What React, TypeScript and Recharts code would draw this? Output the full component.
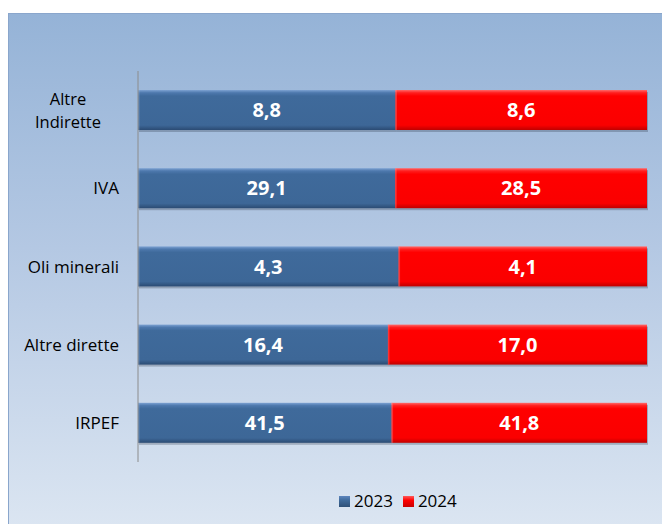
import React from 'react';
import { BarChart, Bar, XAxis, YAxis, Legend, LabelList } from 'recharts';

const categories = ['Altre Indirette', 'IVA', 'Oli minerali', 'Altre dirette', 'IRPEF'];
const values2023 = [8.8, 29.1, 4.3, 16.4, 41.5];
const values2024 = [8.6, 28.5, 4.1, 17.0, 41.8];
const seriesNames = ['2023', '2024'];

const data = categories.map((name, i) => ({
  name,
  y2023: values2023[i],
  y2024: values2024[i],
}));

const FONT = '"Open Sans", "Segoe UI", sans-serif';

const fmt = (v: number) => v.toFixed(1).replace('.', ',');

// bar with a slight bevel and drop shadow, like the office 3D style
const BevelBar = (gradId: string, edge: string) => (props: any) => {
  const { x, y, width, height } = props;
  if (!width || !height) return null;
  return (
    <g>
      <rect x={x + 1} y={y + 2} width={width} height={height} fill="rgba(40,50,70,0.28)" />
      <rect x={x} y={y} width={width} height={height} fill={`url(#${gradId})`} />
      <rect x={x} y={y} width={1.5} height={height} fill={edge} opacity={0.35} />
    </g>
  );
};

const CategoryTick = (props: any) => {
  const { x, y, payload } = props;
  const label: string = payload.value;
  if (label.length > 14) {
    const lines = label.split(' ');
    return (
      <text x={x - 51} y={y} textAnchor="middle" fontFamily={FONT} fontSize={16.5} fill="#000">
        {lines.map((ln, i) => (
          <tspan key={i} x={x - 51} dy={i === 0 ? -5 : 23}>
            {ln}
          </tspan>
        ))}
      </text>
    );
  }
  return (
    <text x={x} y={y} dy={6} textAnchor="end" fontFamily={FONT} fontSize={17} fill="#000">
      {label}
    </text>
  );
};

const LegendContent = (props: any) => {
  const { payload } = props;
  return (
    <div style={{ display: 'flex', alignItems: 'center', fontFamily: FONT, fontSize: 17, color: '#000', lineHeight: '22px' }}>
      {payload.map((p: any, i: number) => (
        <div key={i} style={{ display: 'flex', alignItems: 'center', marginRight: 10 }}>
          <span
            style={{
              display: 'inline-block',
              width: 11,
              height: 11,
              marginRight: 4,
              background: i === 0 ? 'linear-gradient(#5d86bd, #3f6a9b 40%, #2e5078)' : 'linear-gradient(#ff5a5a, #ff0000 40%, #c80000)',
            }}
          />
          <span>{p.value}</span>
        </div>
      ))}
    </div>
  );
};

export default function App() {
  return (
    <div style={{ position: 'fixed', left: 0, top: 0, width: 662, height: 524, overflow: 'hidden', background: '#fff' }}>
      <div
        style={{
          position: 'absolute',
          left: 8,
          top: 13,
          width: 660,
          height: 520,
          borderTop: '1px solid #8aa6cc',
          borderLeft: '1px solid #8aa6cc',
          background: 'linear-gradient(180deg, #95b3d7 0%, #b4c8e3 45%, #dce6f2 100%)',
        }}
      >
        <BarChart
          width={653}
          height={510}
          data={data}
          layout="vertical"
          stackOffset="expand"
          margin={{ top: 57, right: 15, bottom: 62, left: 0 }}
        >
          <defs>
            <linearGradient id="g2023" x1="0" y1="0" x2="0" y2="1">
              <stop offset="0%" stopColor="#7da2d2" />
              <stop offset="7%" stopColor="#4d78ad" />
              <stop offset="15%" stopColor="#3f6a9b" />
              <stop offset="88%" stopColor="#3d6797" />
              <stop offset="100%" stopColor="#2b4b73" />
            </linearGradient>
            <linearGradient id="g2024" x1="0" y1="0" x2="0" y2="1">
              <stop offset="0%" stopColor="#ff6a6a" />
              <stop offset="7%" stopColor="#ff1f1f" />
              <stop offset="15%" stopColor="#ff0000" />
              <stop offset="88%" stopColor="#fa0000" />
              <stop offset="100%" stopColor="#c00000" />
            </linearGradient>
          </defs>
          <XAxis type="number" hide domain={[0, 1]} />
          <YAxis
            type="category"
            dataKey="name"
            width={129}
            axisLine={{ stroke: '#8c8c8c', strokeWidth: 1 }}
            tickLine={false}
            tickSize={6}
            tickMargin={13}
            tick={<CategoryTick />}
            interval={0}
          />
          <Legend
            verticalAlign="middle"
            content={<LegendContent />}
            wrapperStyle={{ top: 476, left: 330, width: 'auto' }}
          />
          <Bar
            dataKey="y2023"
            name={seriesNames[0]}
            stackId="a"
            fill="#3f6a9b"
            barSize={40}
            shape={BevelBar('g2023', '#9ab8e0')}
            isAnimationActive={false}
          >
            <LabelList
              dataKey="y2023"
              position="center"
              formatter={(v: any) => fmt(Number(v))}
              fill="#fff"
              fontFamily={FONT}
              fontSize={20}
              fontWeight="bold"
            />
          </Bar>
          <Bar
            dataKey="y2024"
            name={seriesNames[1]}
            stackId="a"
            fill="#ff0000"
            barSize={40}
            shape={BevelBar('g2024', '#ff9090')}
            isAnimationActive={false}
          >
            <LabelList
              dataKey="y2024"
              position="center"
              formatter={(v: any) => fmt(Number(v))}
              fill="#fff"
              fontFamily={FONT}
              fontSize={20}
              fontWeight="bold"
            />
          </Bar>
        </BarChart>
      </div>
    </div>
  );
}
